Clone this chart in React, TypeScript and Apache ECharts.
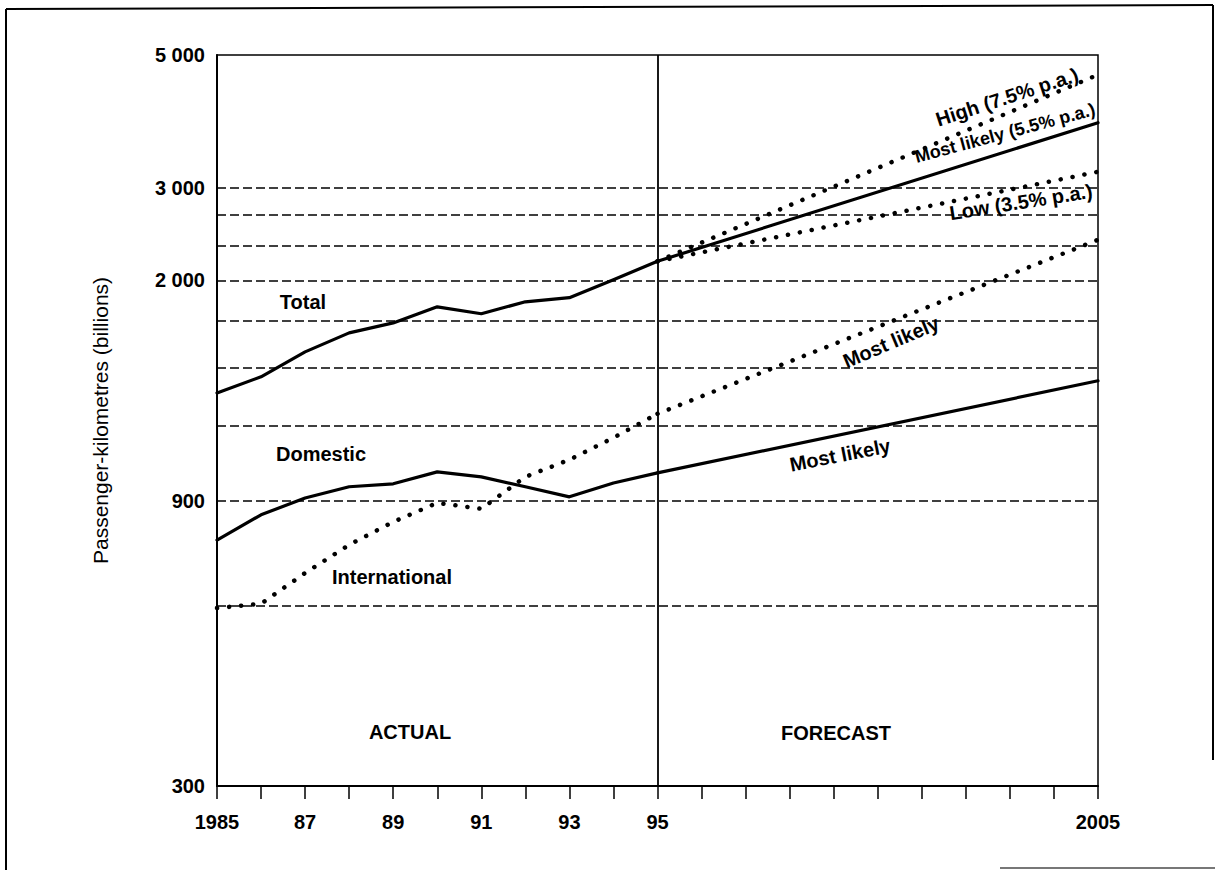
import React, { useEffect, useRef } from 'react';
import * as echarts from 'echarts';

// ---- data ----
const years = [1985, 1986, 1987, 1988, 1989, 1990, 1991, 1992, 1993, 1994, 1995];
const totalActual = [1362, 1449, 1595, 1716, 1783, 1897, 1847, 1934, 1965, 2105, 2260];
const domesticActual = [773, 852, 909, 949, 960, 1005, 986, 949, 913, 963, 1001];
const internationalActual = [595, 605, 681, 759, 829, 892, 872, 986, 1053, 1146, 1257];

const forecastYears = [1995, 2005];
const totalMostLikely = [2260, 3853];
const totalHigh = [2260, 4634];
const totalLow = [2260, 3190];
const domesticMostLikely = [1001, 1427];
const internationalMostLikely = [1257, 2455];

const yTickValues = [300, 900, 2100, 3000, 5000];
const yTickLabels = ['300', '900', '2 000', '3 000', '5 000'];
const gridValues = [600, 900, 1200, 1500, 1800, 2100, 2400, 2700, 3000];

const xLabelYears = [1985, 1987, 1989, 1991, 1993, 1995, 2005];
const xLabelTexts = ['1985', '87', '89', '91', '93', '95', '2005'];

const dividerYear = 1995;

const FONT = '"Liberation Sans", Arial, Helvetica, sans-serif';

const pairs = (xs: number[], ys: number[]) => xs.map((x, i) => [x, ys[i]]);

const solid = { color: '#000', width: 3.2, cap: 'round', join: 'round' };
const dotted = { color: '#000', width: 4.5, type: [0.1, 12], cap: 'round' };

function lineSeries(name: string, data: number[][], style: any, extra: any = {}) {
  return {
    name,
    type: 'line',
    data,
    showSymbol: false,
    symbol: 'none',
    lineStyle: style,
    itemStyle: { color: '#000' },
    z: 3,
    ...extra,
  };
}

function label(text: string, x: number, y: number, deg = 0, size = 20, weight: any = 'bold') {
  return {
    type: 'text',
    x,
    y,
    rotation: (deg * Math.PI) / 180,
    style: {
      text,
      fill: '#000',
      font: `${weight} ${size}px ${FONT}`,
      align: 'center',
      verticalAlign: 'middle',
    },
    z: 10,
  };
}

export default function App() {
  const ref = useRef<HTMLDivElement>(null);
  useEffect(() => {
    if (!ref.current) return;
    const chart = echarts.init(ref.current, null, { renderer: 'svg' });
    const option: any = {
      animation: false,
      backgroundColor: '#fff',
      grid: {
        left: 217,
        right: 117,
        top: 55,
        bottom: 84,
        show: true,
        borderColor: '#000',
        borderWidth: 1.5,
        backgroundColor: 'transparent',
      },
      xAxis: {
        type: 'value',
        min: 1985,
        max: 2005,
        interval: 1,
        axisLine: { show: true, onZero: false, lineStyle: { color: '#000', width: 2 } },
        axisTick: { show: true, inside: false, length: 13, lineStyle: { color: '#000', width: 1.5 } },
        splitLine: { show: false },
        axisLabel: {
          customValues: xLabelYears,
          formatter: (v: number) => {
            const i = xLabelYears.indexOf(Math.round(v));
            return i >= 0 ? xLabelTexts[i] : '';
          },
          color: '#000',
          fontSize: 20,
          fontWeight: 'bold',
          fontFamily: FONT,
          margin: 26,
        },
      },
      yAxis: {
        type: 'log',
        logBase: 10,
        min: 300,
        max: 5000,
        name: 'Passenger-kilometres (billions)',
        nameLocation: 'middle',
        nameRotate: 90,
        nameGap: 106,
        nameTextStyle: { color: '#000', fontSize: 21, fontFamily: FONT },
        axisLine: { show: true, lineStyle: { color: '#000', width: 2 } },
        axisTick: { show: false, customValues: gridValues },
        splitLine: { show: true, lineStyle: { color: '#000', width: 1.5, type: [9, 4] } },
        axisLabel: {
          customValues: yTickValues,
          formatter: (v: number) => {
            let best = 0;
            for (let i = 1; i < yTickValues.length; i++) {
              if (Math.abs(yTickValues[i] - v) < Math.abs(yTickValues[best] - v)) best = i;
            }
            return yTickLabels[best];
          },
          color: '#000',
          fontSize: 20,
          fontWeight: 'bold',
          fontFamily: FONT,
          margin: 12,
        },
      },
      series: [
        lineSeries('Total', pairs(years, totalActual), solid, {
          markLine: {
            silent: true,
            symbol: 'none',
            label: { show: false },
            lineStyle: { color: '#000', width: 1.8, type: 'solid' },
            data: [{ xAxis: dividerYear }],
          },
        }),
        lineSeries('Total most likely', pairs(forecastYears, totalMostLikely), solid),
        lineSeries('Total high', pairs(forecastYears, totalHigh), dotted),
        lineSeries('Total low', pairs(forecastYears, totalLow), dotted),
        lineSeries('Domestic', pairs(years, domesticActual), solid),
        lineSeries('Domestic most likely', pairs(forecastYears, domesticMostLikely), solid),
        lineSeries('International', pairs(years, internationalActual), dotted),
        lineSeries('International most likely', pairs(forecastYears, internationalMostLikely), dotted),
      ],
      graphic: [
        // outer frame
        { type: 'line', shape: { x1: 6, y1: 9, x2: 6, y2: 870 }, style: { stroke: '#000', lineWidth: 2 } },
        { type: 'line', shape: { x1: 6, y1: 9, x2: 1213, y2: 5 }, style: { stroke: '#000', lineWidth: 2 } },
        { type: 'line', shape: { x1: 1213, y1: 5, x2: 1213, y2: 760 }, style: { stroke: '#000', lineWidth: 2 } },
        { type: 'line', shape: { x1: 1000, y1: 868, x2: 1215, y2: 868 }, style: { stroke: '#777', lineWidth: 2 } },
        label('Total', 303, 302),
        label('Domestic', 321, 454),
        label('International', 392, 577),
        label('ACTUAL', 410, 732),
        label('FORECAST', 836, 733),
        label('High (7.5% p.a.)', 1007, 97, 18),
        label('Most likely (5.5% p.a.)', 1005, 133, 15, 18),
        label('Low (3.5% p.a.)', 1021, 202, 9),
        label('Most likely', 891, 342, 23),
        label('Most likely', 840, 455, 11),
      ],
    };
    chart.setOption(option);
    return () => chart.dispose();
  }, []);
  return (
    <div
      ref={ref}
      style={{ position: 'absolute', left: 0, top: 0, width: 1215, height: 870 }}
    />
  );
}
